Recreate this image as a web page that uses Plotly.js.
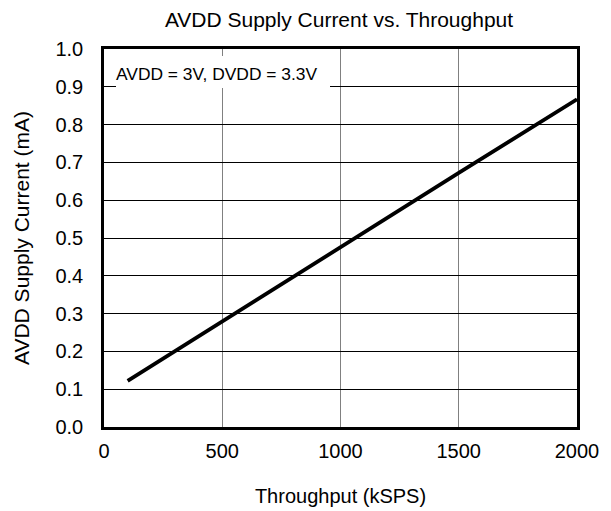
<!DOCTYPE html>
<html>
<head>
<meta charset="utf-8">
<script src="https://cdn.plot.ly/plotly-3.0.1.min.js"></script>
<style>html,body{margin:0;padding:0;background:#fff;}#chart{width:611px;height:511px;}</style>
</head>
<body>
<div id="chart"></div>
<script>
// Data
const throughput_kSPS = [100, 500, 1000, 1500, 2000];
const avdd_current_mA = [0.122, 0.28, 0.477, 0.672, 0.867];
const xTicks = [0, 500, 1000, 1500, 2000];
const yTicks = [0.0, 0.1, 0.2, 0.3, 0.4, 0.5, 0.6, 0.7, 0.8, 0.9, 1.0];
const titleText = 'AVDD Supply Current vs. Throughput';
const xTitle = 'Throughput (kSPS)';
const yTitle = 'AVDD Supply Current (mA)';
const noteText = 'AVDD = 3V, DVDD = 3.3V';

const font = 'Arial, "Liberation Sans", sans-serif';

const trace = {
  x: throughput_kSPS,
  y: avdd_current_mA,
  type: 'scatter',
  mode: 'lines',
  line: {color: '#000', width: 3.8},
  hoverinfo: 'skip'
};

const layout = {
  width: 611, height: 511,
  margin: {l: 104, r: 34, t: 49, b: 84},
  paper_bgcolor: '#fff', plot_bgcolor: '#fff',
  showlegend: false,
  font: {family: font, size: 20, color: '#000'},
  title: {text: titleText, font: {family: font, size: 21, color: '#000'}, x: 339 / 611, xanchor: 'center', xref: 'container', y: (511 - 20) / 511, yanchor: 'middle'},
  xaxis: {
    range: [0, 2000], tickvals: xTicks, ticktext: xTicks.map(String),
    showgrid: true, gridcolor: '#808080', gridwidth: 1.3,
    showline: true, linecolor: '#000', linewidth: 2.8, mirror: true,
    zeroline: false, ticks: '', ticklabelstandoff: 4,
    tickfont: {family: font, size: 20, color: '#000'},
    title: {text: xTitle, font: {family: font, size: 20, color: '#000'}, standoff: 29}
  },
  yaxis: {
    range: [0, 1.0], tickvals: yTicks, ticktext: yTicks.map(v => v.toFixed(1)),
    showgrid: true, gridcolor: '#000', gridwidth: 1,
    showline: true, linecolor: '#000', linewidth: 2.8, mirror: true,
    zeroline: false, ticks: '', ticklabelstandoff: 14,
    tickfont: {family: font, size: 20, color: '#000'},
    title: {text: yTitle, font: {family: font, size: 21, color: '#000'}, standoff: 20}
  },
  shapes: [{
    type: 'rect', xref: 'paper', yref: 'paper',
    x0: (116 - 104) / 473, x1: (330 - 104) / 473,
    y0: (427 - 88) / 378, y1: (427 - 56) / 378,
    fillcolor: '#fff', line: {width: 0}, layer: 'above'
  }],
  annotations: [{
    text: noteText, xref: 'paper', yref: 'paper',
    x: (115 - 104) / 473, y: (427 - 74) / 378, xanchor: 'left', yanchor: 'middle',
    showarrow: false, borderpad: 0,
    font: {family: font, size: 17.4, color: '#000'}
  }]
};

Plotly.newPlot('chart', [trace], layout, {displayModeBar: false, staticPlot: true});
</script>
</body>
</html>
